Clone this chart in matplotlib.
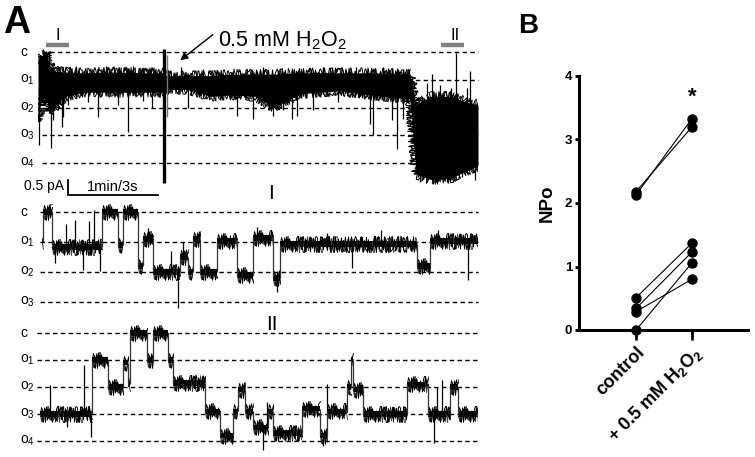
import numpy as np
import matplotlib
matplotlib.use("Agg")
import matplotlib.pyplot as plt
from matplotlib.transforms import blended_transform_factory

plt.rcParams['font.family'] = ['Liberation Sans', 'DejaVu Sans']
plt.rcParams['mathtext.default'] = 'regular'

W, H = 755, 457

# ---------------- panel A data (levels: c = 0, o1 = -1, ... current downward) -------------
level_names = ['c', 'o$_1$', 'o$_2$', 'o$_3$', 'o$_4$']
level_vals = [0, -1, -2, -3, -4]

# full recording (time in s), envelope of the noisy band
main_t  = [0, 2, 5, 8, 12, 18, 30, 50, 70, 83, 86, 100, 115, 128, 145, 157, 175, 200, 221, 248, 252, 262, 275, 285, 293.3]
main_hi = [-0.4, -0.2, 0.0, -0.5, -0.7, -0.72, -0.75, -0.72, -0.75, -0.75, -0.85, -0.85, -0.85, -0.8, -0.8, -0.8,
           -0.75, -0.75, -0.75, -0.8, -1.9, -1.6, -1.6, -1.8, -1.9]
main_lo = [-2.5, -1.8, -1.6, -2.2, -1.9, -1.6, -1.45, -1.45, -1.45, -1.45, -1.35, -1.35, -1.6, -1.55, -1.6, -2.0,
           -1.5, -1.4, -1.55, -1.7, -4.4, -4.6, -4.55, -4.3, -4.1]
main_spk_t = [0.7, 1.5, 3.5, 5.5, 7.5, 8.5, 10, 13.3, 16, 16.7, 20, 25, 33, 40, 45, 53, 60, 63, 70, 76,
              95, 100, 110, 132.7, 143.3, 150, 156.7, 163, 169.3, 172.7, 183.3, 190, 200, 212, 221.3,
              223.3, 230, 236, 239.3, 243.3, 249.3, 254.7, 259, 262.7, 266, 268, 272.7, 275, 278.7,
              282.7, 286, 288, 291]
main_spk_y = [-3.35, -0.1, 0.1, 0.05, 0.0, -3.45, -2.45, -2.1, -2.7, -2.35, -1.9, -0.5, -1.8, -2.35, -0.5,
              -1.9, -2.9, -0.5, -1.75, -2.0, -0.55, -2.0, -0.6, -2.3, -2.4, -0.55, -2.3, -2.1, -2.4, -2.3,
              -2.1, -0.55, -1.8, -0.55, -2.6, -3.0, -0.55, -2.45, -3.5, -2.4, -0.9, -4.7, -1.1, -0.8,
              -4.75, -1.2, -4.7, -1.3, -0.05, -4.5, -1.3, -0.7, -4.6]
artifact_t = 84
artifact_range = (0.1, -4.72)
window_I = (5.3, 20.7)
window_II = (268.7, 284.0)

# expanded trace I (time in s)
trI_t = [0, 0.03, 0.33, 2.0, 2.53, 2.7, 3.2, 3.37, 3.7, 4.6, 4.87, 5.03, 5.27, 5.83, 6.5, 7.03, 7.7,
         7.93, 12.5, 12.93, 14.53]
trI_lvl = [-1, 0, -1.15, 0, -1.1, 0, -1.8, -0.9, -2.0, -1.5, -2.0, -0.9, -2.0, -0.95, -2.1, -0.85, -2.2,
           -1.05, -1.8, -0.95, -0.95]
trI_spk_t = [0.43, 0.8, 1.1, 1.37, 1.55, 1.73, 1.93, 3.53, 4.3, 4.53, 4.7, 5.2, 6.27, 7.17, 7.83, 9.5,
             10.33, 11.3, 13.2, 14.2]
trI_spk_y = [-1.7, -0.4, -0.27, -1.93, -0.3, 0.07, -1.95, -0.53, -1.3, -3.2, -1.0, -0.77, -0.77, -0.5,
             -2.67, -0.7, -1.87, -0.6, -0.6, -2.27]

# expanded trace II (time in s)
trII_t = [0, 1.73, 2.27, 2.77, 2.93, 3.0, 3.57, 3.77, 4.27, 4.43, 5.5, 6.0, 6.43, 6.6, 6.83, 7.1, 7.6,
          7.77, 8.73, 9.33, 9.57, 10.23, 10.37, 10.43, 10.77, 12.23, 12.93, 13.67, 13.93, 14.6]
trII_lvl = [-3.0, -1.0, -2.0, -1.1, -1.9, 0.0, -1.0, 0.0, -1.0, -1.85, -2.9, -3.8, -2.9, -2.1, -2.9,
            -3.5, -2.9, -3.7, -2.8, -3.8, -2.9, -2.0, -1.0, -2.1, -3.0, -1.9, -3.0, -2.0, -3.0, -3.0]
trII_spk_t = [0.33, 0.9, 1.47, 1.7, 7.43, 7.55, 9.43, 9.57, 13.13, 13.23, 13.4]
trII_spk_y = [-1.93, -3.5, -1.19, -3.85, -4.33, -2.55, -4.2, -1.9, -4.07, -2.0, -1.75]

# ---------------- panel B data -------------
groups = ['control', '+ 0.5 mM H$_2$O$_2$']
npo_control = [2.18, 2.13, 0.51, 0.34, 0.29, 0.00]
npo_h2o2 = [3.20, 3.33, 1.37, 1.23, 0.80, 1.06]

fig = plt.figure(figsize=(W / 100, H / 100), dpi=100)


def px_axes(x0, y0, x1, y1):
    return fig.add_axes([x0 / W, 1 - y1 / H, (x1 - x0) / W, (y1 - y0) / H])


def fx(px):
    return px / W


def fy(py):
    return 1 - py / H


def level_lines(ax, names, x0, x1):
    tr = blended_transform_factory(fig.transFigure, ax.transData)
    for name, v in zip(names, level_vals):
        ax.hlines(v, x0, x1, colors='black', lw=1.0, linestyles=(0, (3.2, 2.4)), clip_on=False, zorder=1)
        ax.text(fx(20), v, name, transform=tr, ha='left', va='center', fontsize=10)


def step_trace(ax, t, lvl, spk_t, spk_y):
    t = np.asarray(t)
    lvl = np.asarray(lvl)
    ax.fill_between(t, lvl - 0.1, lvl + 0.1, step='post', color='black', lw=0, zorder=3)
    # dwell periods: noisy horizontal pieces (several sketch passes for dense noise)
    for i in range(len(t) - 1):
        for k, length in enumerate([0.25, 0.4, 0.65]):
            ln, = ax.plot([t[i], t[i + 1]], [lvl[i], lvl[i]], color='black' if k else '#444444',
                          lw=0.7, zorder=3)
            ln.set_sketch_params(scale=8, length=length, randomness=3)
    # transitions between levels
    ax.vlines(t[1:-1], lvl[:-2], lvl[1:-1], colors='#333333', lw=0.9, zorder=3)
    idx = np.searchsorted(t, spk_t, side='right') - 1
    ax.vlines(spk_t, lvl[idx], spk_y, colors='black', lw=0.9, zorder=3)


# ---- main recording
ax_m = px_axes(38, 38, 478, 190)
ax_m.set_xlim(0, 293.3)
ax_m.set_ylim(-4.973, 0.505)
ax_m.axis('off')
level_lines(ax_m, level_names, 2.7, 293.3)
ax_m.fill_between(main_t, main_lo, main_hi, color='black', lw=0, zorder=3)
for edge in (main_hi, main_lo):
    for length in (0.3, 0.7):
        ln, = ax_m.plot(main_t, edge, color='black', lw=0.7, zorder=3)
        ln.set_sketch_params(scale=5, length=length, randomness=3)
mid = (np.asarray(main_hi) + np.asarray(main_lo)) / 2
ax_m.vlines(main_spk_t, np.interp(main_spk_t, main_t, mid), main_spk_y, colors='black', lw=0.9, zorder=3)
ax_m.vlines(artifact_t, *artifact_range, colors='black', lw=2.4, zorder=4)
ax_m.vlines(artifact_t + 2, -0.1, -2.35, colors='#777777', lw=1.0, zorder=4)
ax_m.hlines(0.27, *window_I, colors='#808080', lw=3.2, clip_on=False)
ax_m.hlines(0.27, *window_II, colors='#808080', lw=3.2, clip_on=False)
# scale bar: 1 min horizontal
ax_m.plot([20, 20, 80], [-4.61, -5.15, -5.15], color='black', lw=1.3, clip_on=False, solid_joinstyle='miter')

fig.text(fx(58), fy(40), 'I', ha='center', va='baseline', fontsize=12)
fig.text(fx(455), fy(40), 'II', ha='center', va='baseline', fontsize=12)
fig.text(fx(64), fy(190), '0.5 pA', ha='right', va='baseline', fontsize=10)
fig.text(fx(113), fy(191), '1min/3s', ha='center', va='baseline', fontsize=10.5)
fig.text(fx(218), fy(46), '0.5 mM H$_2$O$_2$', ha='left', va='baseline', fontsize=15.5)
ax_m.annotate('', xy=(fx(178), fy(62)), xycoords='figure fraction',
              xytext=(fx(215), fy(33)), textcoords='figure fraction',
              arrowprops=dict(arrowstyle='-|>', color='black', lw=1.0, mutation_scale=11))

# ---- trace I
ax_1 = px_axes(42, 198, 478, 318)
ax_1.set_xlim(0, 14.53)
ax_1.set_ylim(-3.533, 0.467)
ax_1.axis('off')
level_lines(ax_1, level_names[:4], -0.07, 14.53)
step_trace(ax_1, trI_t, trI_lvl, trI_spk_t, trI_spk_y)
fig.text(fx(271), fy(199), 'I', ha='center', va='baseline', fontsize=15)

# ---- trace II
ax_2 = px_axes(40, 320, 478, 455)
ax_2.set_xlim(0, 14.6)
ax_2.set_ylim(-4.52, 0.48)
ax_2.axis('off')
level_lines(ax_2, level_names, -0.1, 14.6)
step_trace(ax_2, trII_t, trII_lvl, trII_spk_t, trII_spk_y)
fig.text(fx(272), fy(330), 'II', ha='center', va='baseline', fontsize=15)

fig.text(fx(3), fy(33), 'A', ha='left', va='baseline', fontsize=27, fontweight='bold')
fig.text(fx(518), fy(33), 'B', ha='left', va='baseline', fontsize=20, fontweight='bold')

# ---- panel B
ax_b = px_axes(579, 76, 748, 330)
x_pos = np.arange(len(groups))
for c, h in zip(npo_control, npo_h2o2):
    ax_b.plot(x_pos, [c, h], color='black', lw=0.8, marker='o', ms=6.5, clip_on=False, zorder=3)
ax_b.set_xlim(-1.02, 2.0)
ax_b.set_ylim(0, 4)
ax_b.set_yticks([0, 1, 2, 3, 4])
ax_b.set_xticks(x_pos)
ax_b.set_xticklabels(groups, rotation=45, ha='right', rotation_mode='anchor', fontsize=13, fontweight='bold')
ax_b.set_ylabel('NPo', fontsize=13.5, fontweight='bold', labelpad=6)
for lab in ax_b.get_yticklabels():
    lab.set_fontweight('bold')
ax_b.tick_params(axis='y', labelsize=9.5, width=2, length=3, pad=2)
ax_b.tick_params(axis='x', width=2, length=7, pad=3)
for s in ['top', 'right']:
    ax_b.spines[s].set_visible(False)
for s in ['left', 'bottom']:
    ax_b.spines[s].set_linewidth(2.2)
ax_b.text(1, 3.67, '*', ha='center', va='center', fontsize=16, fontweight='bold')

fig.savefig('out.png', dpi=100)
